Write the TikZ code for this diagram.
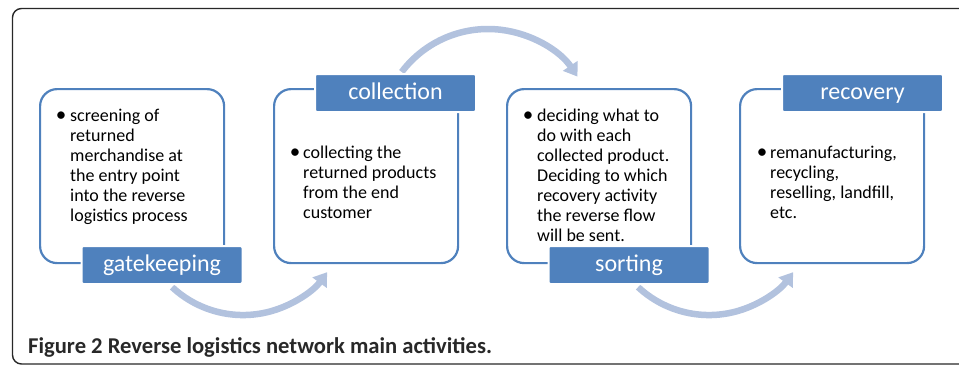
\documentclass[tikz,border=0pt]{standalone}
\usepackage{fontspec}
\setmainfont{Carlito}
\usetikzlibrary{arrows.meta}
\definecolor{accent}{RGB}{79,129,189}
\definecolor{arrowc}{RGB}{178,194,222}
\definecolor{framec}{RGB}{40,40,40}
\begin{document}
\begin{tikzpicture}[x=1pt,y=-1pt,
  stagebox/.style={draw=accent, line width=2.2pt, rounded corners=17pt, inner sep=0pt,
    minimum width=184pt, minimum height=174pt, anchor=north west},
  stagelabel/.style={fill=accent, draw=white, line width=2pt, rounded corners=2pt, text=white,
    font=\fontsize{24}{28}\selectfont, inner sep=0pt, text height=17pt, text depth=4pt,
    minimum width=161pt, minimum height=38pt},
  flow/.style={draw=arrowc, line width=6.5pt, -{Triangle[width=17pt,length=13pt,fill=arrowc]}},
  bul/.style={anchor=base, inner sep=0pt, font=\fontsize{21}{20}\selectfont},
  bodytext/.style={anchor=base west, inner sep=0pt, font=\fontsize{18}{20}\selectfont},
  caption/.style={anchor=base west, inner sep=0pt, text=framec, font=\bfseries\fontsize{22.6}{26}\selectfont}]
\useasboundingbox (0,0) rectangle (959,365);
\draw[framec, line width=1.4pt, rounded corners=9pt] (12.5,8.5) rectangle (990,364);
% stage boxes
\node[stagebox] (b1) at (39,88) {};
\node[stagebox] (b2) at (273,88) {};
\node[stagebox] (b3) at (506,88) {};
\node[stagebox] (b4) at (739,88) {};
% arrows
\coordinate (a1) at (172.1,287.1);
\coordinate (a2) at (401.7,72.0);
\coordinate (a3) at (638.1,287.1);
\draw[flow] (a1) arc[start angle=133, end angle=36, radius=104];
\draw[flow] (a2) arc[start angle=217, end angle=326, radius=108];
\draw[flow] (a3) arc[start angle=133, end angle=36, radius=104];
% labels
\node[stagelabel] (l1) at (162,265) {gatekeeping};
\node[stagelabel] (l2) at (395.5,93) {collection};
\node[stagelabel] (l3) at (629,265) {sorting};
\node[stagelabel] (l4) at (862.5,93) {recovery};
% texts
\node[bul] (u1) at (61,121) {•};
\node[bodytext] (t1) at (70,121) {\parbox[t]{150pt}{screening of\\returned\\merchandise at\\the entry point\\into the reverse\\logistics process}};
\node[bul] (u2) at (295,158) {•};
\node[bodytext] (t2) at (303,158) {\parbox[t]{150pt}{collecting the\\returned products\\from the end\\customer}};
\node[bul] (u3) at (528,121) {•};
\node[bodytext] (t3) at (537,121) {\parbox[t]{150pt}{deciding what to\\do with each\\collected product.\\Deciding to which\\recovery activity\\the reverse flow\\will be sent.}};
\node[bul] (u4) at (762,158) {•};
\node[bodytext] (t4) at (770,158) {\parbox[t]{150pt}{remanufacturing,\\recycling,\\reselling, landfill,\\etc.}};
\node[caption] (cap) at (28,353) {Figure 2 Reverse logistics network main activities.};
\end{tikzpicture}
\end{document}
